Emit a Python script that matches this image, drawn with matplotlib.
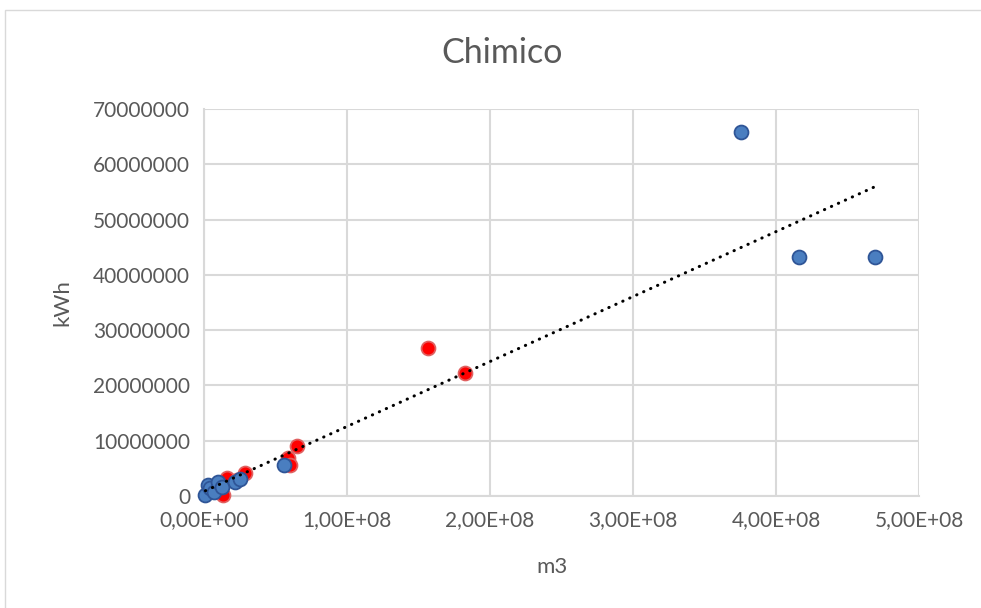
import numpy as np
import matplotlib
matplotlib.use("Agg")
import matplotlib.pyplot as plt
from matplotlib.patches import Rectangle
from matplotlib.ticker import FuncFormatter

# ---- data (m3, kWh) ----
blue_x = [1.0e6, 2.8e6, 4.2e6, 7.0e6, 9.8e6, 12.6e6, 21.7e6, 25.0e6, 56.0e6, 375.5e6, 416.0e6, 469.0e6]
blue_y = [0.2e6, 2.0e6, 1.45e6, 0.8e6, 2.5e6, 1.6e6, 2.5e6, 3.1e6, 5.6e6, 65.8e6, 43.2e6, 43.2e6]
red_x = [13.3e6, 16.0e6, 23.0e6, 28.7e6, 59.0e6, 60.0e6, 65.0e6, 156.6e6, 182.5e6]
red_y = [0.2e6, 3.2e6, 2.9e6, 4.2e6, 6.9e6, 5.6e6, 9.0e6, 26.8e6, 22.2e6]

title = "Chimico"
xlabel = "m3"
ylabel = "kWh"
xticks = [0, 1e8, 2e8, 3e8, 4e8, 5e8]
yticks = [0, 1e7, 2e7, 3e7, 4e7, 5e7, 6e7, 7e7]

TXT = "#595959"
GRID = "#D9D9D9"
FONT = ["Lato", "DejaVu Sans"]

fig = plt.figure(figsize=(9.81, 6.08), dpi=100)
fig.patches.append(Rectangle((5/981, -0.1), 2.0, 1 - 10/608 + 0.1, transform=fig.transFigure,
                             fill=False, edgecolor=GRID, lw=1.0))
ax = fig.add_axes([204/981, 1 - 496/608, (919 - 204)/981, (496 - 109)/608])

ax.set_xlim(0, 5e8)
ax.set_ylim(0, 7e7)
ax.set_xticks(xticks)
ax.set_yticks(yticks)
ax.xaxis.set_major_formatter(FuncFormatter(lambda v, p: ("%.2E" % v).replace(".", ",")))
ax.yaxis.set_major_formatter(FuncFormatter(lambda v, p: "%d" % v))
ax.tick_params(length=0, labelsize=15, labelcolor=TXT, pad=10)
for lab in ax.get_xticklabels() + ax.get_yticklabels():
    lab.set_family(FONT)
ax.grid(True, color=GRID, lw=1.5, zorder=0)
ax.set_axisbelow(True)
for s in ["top", "right"]:
    ax.spines[s].set_visible(False)
for s in ["left", "bottom"]:
    ax.spines[s].set_color(GRID)
    ax.spines[s].set_linewidth(1.5)

ax.scatter(red_x, red_y, s=100, c="#FF0000", edgecolors="#E06060", linewidths=1.3, zorder=3, clip_on=False)
ax.scatter(blue_x, blue_y, s=100, c="#4A7EC0", edgecolors="#2F5597", linewidths=1.3, zorder=4, clip_on=False)

# linear trendline over all points
all_x = np.array(blue_x + red_x)
all_y = np.array(blue_y + red_y)
k, b = np.polyfit(all_x, all_y, 1)
tx = np.array([all_x.min(), all_x.max()])
ax.plot(tx, k * tx + b, color="black", lw=2.2, linestyle=(0, (0.1, 2.4)),
        dash_capstyle="round", zorder=5, clip_on=False)

fig.text(502/981, 1 - 53/608, title, ha="center", va="center", fontsize=24.5, color=TXT, family=FONT)
fig.text(552/981, 1 - 567/608, xlabel, ha="center", va="center", fontsize=16, color=TXT, family=FONT)
fig.text(62/981, 1 - 303/608, ylabel, ha="center", va="center", fontsize=16, color=TXT, family=FONT, rotation=90)

fig.savefig("out.png", dpi=100)
